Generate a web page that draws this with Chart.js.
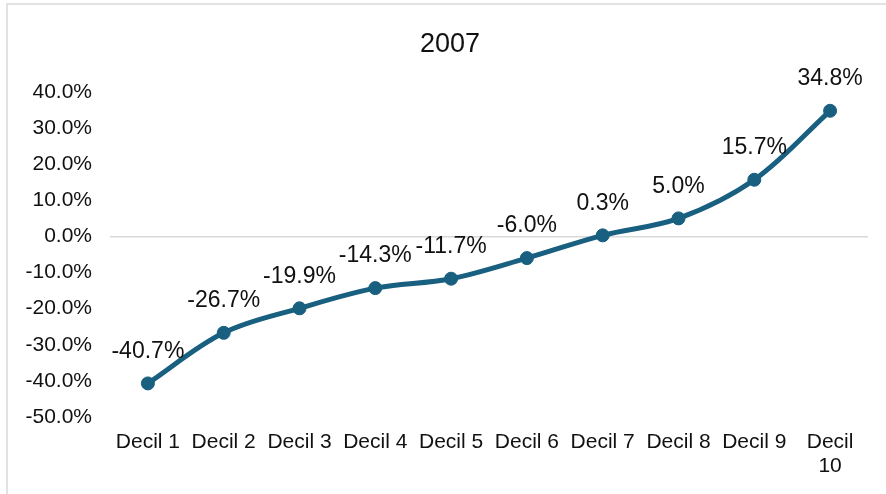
<!DOCTYPE html>
<html>
<head>
<meta charset="utf-8">
<script src="https://cdn.jsdelivr.net/npm/chart.js@4/dist/chart.umd.min.js"></script>
<style>
  html, body { margin: 0; padding: 0; background: #fff; overflow: hidden; }
  #wrap { position: absolute; left: 0; top: 0; width: 900px; height: 494px; }
</style>
</head>
<body>
<div id="wrap"><canvas id="chart" width="900" height="494"></canvas></div>
<script>
// Income deciles and their change, in percent
const categories = ['Decil 1', 'Decil 2', 'Decil 3', 'Decil 4', 'Decil 5',
                    'Decil 6', 'Decil 7', 'Decil 8', 'Decil 9', ['Decil', '10']];
const values = [-40.7, -26.7, -19.9, -14.3, -11.7, -6.0, 0.3, 5.0, 15.7, 34.8];
const yTicks = [40, 30, 20, 10, 0, -10, -20, -30, -40, -50];
const chartTitle = '2007';

const FONT = '"Liberation Sans", Arial, sans-serif';
const LINE = '#185f80';
const TEXT = '#111';

// White card with a thin grey frame and the title centred on the card
const framePlugin = {
  id: 'frame',
  beforeDraw(chart) {
    const ctx = chart.ctx;
    ctx.save();
    ctx.fillStyle = '#fff';
    ctx.fillRect(0, 0, chart.width, chart.height);
    ctx.strokeStyle = '#d9d9d9';
    ctx.lineWidth = 1.5;
    ctx.strokeRect(7, 4, 886, 520);
    ctx.font = '27px ' + FONT;
    ctx.fillStyle = TEXT;
    ctx.textAlign = 'center';
    ctx.textBaseline = 'middle';
    ctx.fillText(chartTitle, 7 + 886 / 2, 45);
    ctx.restore();
  }
};

// Value labels centred above each point
const valueLabels = {
  id: 'valueLabels',
  afterDatasetsDraw(chart) {
    const ctx = chart.ctx;
    const meta = chart.getDatasetMeta(0);
    ctx.save();
    ctx.font = '23px ' + FONT;
    ctx.fillStyle = TEXT;
    ctx.textAlign = 'center';
    ctx.textBaseline = 'middle';
    meta.data.forEach((pt, i) => {
      ctx.fillText(values[i].toFixed(1) + '%', pt.x, pt.y - 32);
    });
    ctx.restore();
  }
};

new Chart(document.getElementById('chart'), {
  type: 'line',
  data: {
    labels: categories,
    datasets: [{
      data: values,
      borderColor: LINE,
      backgroundColor: LINE,
      borderWidth: 5,
      tension: 0.35,
      pointRadius: 6.5,
      pointBorderWidth: 1,
      pointBackgroundColor: LINE,
      pointBorderColor: LINE,
      fill: false
    }]
  },
  options: {
    responsive: false,
    animation: false,
    layout: { padding: { left: 0, right: 32, top: 92, bottom: 0 } },
    plugins: {
      legend: { display: false },
      tooltip: { enabled: false },
      title: { display: false }
    },
    scales: {
      x: {
        offset: true,
        grid: { display: false, drawTicks: false },
        border: { display: false },
        ticks: {
          color: TEXT,
          padding: 13,
          maxRotation: 0,
          autoSkip: false,
          font: { family: FONT, size: 21, lineHeight: 1.15 }
        },
        afterFit(scale) { scale.height = 77; }
      },
      y: {
        min: -50,
        max: 40,
        afterBuildTicks(scale) { scale.ticks = yTicks.map(v => ({ value: v })); },
        grid: {
          drawTicks: false,
          lineWidth: 1.5,
          color: ctx => (ctx.tick && ctx.tick.value === 0) ? '#d9d9d9' : 'rgba(0,0,0,0)'
        },
        border: { display: false },
        ticks: {
          color: TEXT,
          padding: 18,
          font: { family: FONT, size: 21 },
          callback: v => Number(v).toFixed(1) + '%'
        },
        afterFit(scale) { scale.width = 110; }
      }
    }
  },
  plugins: [framePlugin, valueLabels]
});
</script>
</body>
</html>
